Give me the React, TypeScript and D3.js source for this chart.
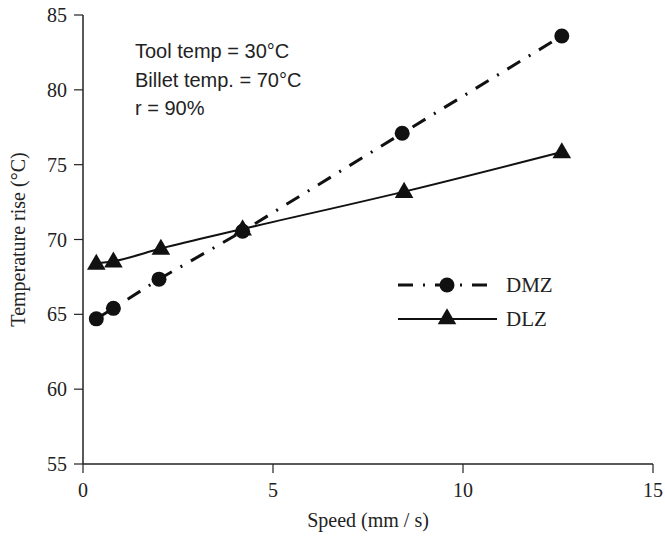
import React from "react";
import * as d3 from "d3";

const speedDMZ = [0.35, 0.8, 2.0, 4.2, 8.4, 12.6];
const tempDMZ = [64.7, 65.4, 67.35, 70.55, 77.1, 83.6];
const speedDLZ = [0.35, 0.8, 2.05, 4.2, 8.45, 12.6];
const tempDLZ = [68.4, 68.55, 69.4, 70.7, 73.2, 75.85];
const xTicks = [0, 5, 10, 15];
const yTicks = [55, 60, 65, 70, 75, 80, 85];
const notes = ["Tool temp = 30°C", "Billet temp. = 70°C", "r = 90%"];
const seriesNames = ["DMZ", "DLZ"];

const W = 665, H = 538;
const L = 83, R = 653, T = 15, B = 464;

export default function App() {
  const x = d3.scaleLinear().domain([0, 15]).range([L, R]);
  const y = d3.scaleLinear().domain([55, 85]).range([B, T]);
  const dmz = speedDMZ.map((s, i) => [x(s), y(tempDMZ[i])] as [number, number]);
  const dlz = speedDLZ.map((s, i) => [x(s), y(tempDLZ[i])] as [number, number]);
  const lineLin = d3.line();
  const lineCurve = d3.line().curve(d3.curveMonotoneX);
  const tri = d3.symbol().type(d3.symbolTriangle).size(150);
  const serif = "'Liberation Serif', 'Times New Roman', serif";
  const sans = "'Liberation Sans', Arial, sans-serif";
  const dash = "15,10,2,10";
  return (
    <svg width={W} height={H} style={{ position: "absolute", left: 0, top: 0, background: "#fff" }}>
      {/* axes */}
      <line x1={L} y1={T} x2={L} y2={B} stroke="#222" strokeWidth={1.5} />
      <line x1={L} y1={B} x2={R} y2={B} stroke="#222" strokeWidth={1.5} />
      {yTicks.map((t) => (
        <g key={"y" + t}>
          <line x1={L - 9} x2={L} y1={y(t)} y2={y(t)} stroke="#222" strokeWidth={1.2} />
          <text x={L - 16} y={y(t)} dy="0.35em" textAnchor="end" fontFamily={serif} fontSize={20} fill="#222">{t}</text>
        </g>
      ))}
      {xTicks.map((t) => (
        <g key={"x" + t}>
          <line x1={x(t)} x2={x(t)} y1={B} y2={B + 9} stroke="#222" strokeWidth={1.2} />
          <text x={x(t)} y={B + 33} textAnchor="middle" fontFamily={serif} fontSize={20} fill="#222">{t}</text>
        </g>
      ))}
      <text x={(L + R) / 2} y={527} textAnchor="middle" fontFamily={serif} fontSize={20} fill="#222">Speed (mm / s)</text>
      <text transform={`translate(25,${(T + B) / 2}) rotate(-90)`} textAnchor="middle" fontFamily={serif} fontSize={20} fill="#222">Temperature rise (°C)</text>
      {notes.map((n, i) => (
        <text key={n} x={135} y={58 + i * 28.5} fontFamily={sans} fontSize={20} fill="#222">{n}</text>
      ))}
      {/* series */}
      <path d={lineCurve(dlz) || ""} fill="none" stroke="#111" strokeWidth={2} />
      <path d={lineLin(dmz) || ""} fill="none" stroke="#111" strokeWidth={3} strokeDasharray={dash} />
      {dmz.map((p, i) => (
        <circle key={"c" + i} cx={p[0]} cy={p[1]} r={7.5} fill="#111" />
      ))}
      {dlz.map((p, i) => (
        <path key={"t" + i} d={tri() || ""} transform={`translate(${p[0]},${p[1] + 1})`} fill="#111" />
      ))}
      {/* legend */}
      <line x1={398} x2={490} y1={285} y2={285} stroke="#111" strokeWidth={3} strokeDasharray={dash} />
      <circle cx={447} cy={285} r={7.5} fill="#111" />
      <text x={506} y={285} dy="0.35em" fontFamily={serif} fontSize={21} fill="#222">{seriesNames[0]}</text>
      <line x1={398} x2={497} y1={319} y2={319} stroke="#111" strokeWidth={2} />
      <path d={tri() || ""} transform={`translate(447,${319})`} fill="#111" />
      <text x={506} y={319} dy="0.35em" fontFamily={serif} fontSize={21} fill="#222">{seriesNames[1]}</text>
    </svg>
  );
}
